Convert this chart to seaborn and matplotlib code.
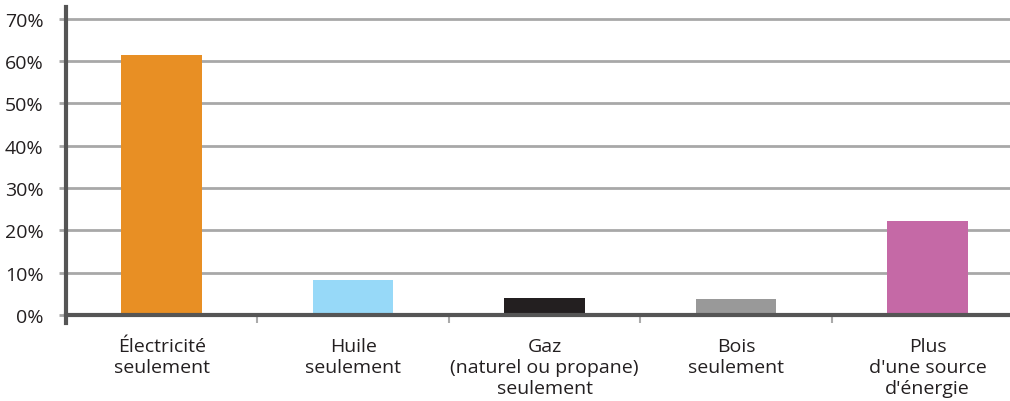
import matplotlib
matplotlib.use("Agg")
import matplotlib.pyplot as plt
import seaborn as sns
import pandas as pd
from matplotlib.ticker import FixedLocator

categories = ["Électricité\nseulement", "Huile\nseulement",
              "Gaz\n(naturel ou propane)\nseulement", "Bois\nseulement",
              "Plus\nd'une source\nd'énergie"]
values = [61.5, 8.3, 4.0, 3.8, 22.2]
colors = ["#E88F24", "#97D9F8", "#231F20", "#999999", "#C569A6"]
yticks = [0, 10, 20, 30, 40, 50, 60, 70]
ytick_labels = ["0%", "10%", "20%", "30%", "40%", "50%", "60%", "70%"]

sns.set_theme(style="white")
plt.rcParams['font.family'] = ['Open Sans', 'DejaVu Sans']

df = pd.DataFrame({"cat": categories, "val": values})

fig = plt.figure(figsize=(10.1, 4.02), dpi=100)
ax = fig.add_axes([0.0653, 0.193, 1 - 0.0653, 0.787])

for y in yticks[1:]:
    ax.axhline(y, color="#a8a8a8", lw=2, zorder=0)

sns.barplot(data=df, x="cat", y="val", hue="cat", palette=colors,
            width=0.42, legend=False, ax=ax, zorder=3, saturation=1,
            linewidth=0, edgecolor="none")

ax.set_ylim(-2, 72.8)
ax.set_xlim(-0.5, 4.43)
ax.set_xlabel("")
ax.set_ylabel("")
ax.set_yticks(yticks)
ax.set_yticklabels(ytick_labels)
ax.tick_params(axis="y", which="major", length=5, width=2, color="#a8a8a8",
               direction="out", pad=11, left=True, labelsize=14,
               labelcolor="#231F20")
ax.set_xticks(range(len(categories)))
ax.set_xticklabels(categories)
ax.tick_params(axis="x", which="major", length=0, pad=16, labelsize=14,
               labelcolor="#231F20")
for t in ax.get_xticklabels():
    t.set_linespacing(1.0)
ax.xaxis.set_minor_locator(FixedLocator([0.5, 1.5, 2.5, 3.5]))
ax.tick_params(axis="x", which="minor", length=6, width=1.5, color="#aaaaaa",
               direction="out", bottom=True)

for s in ["top", "right"]:
    ax.spines[s].set_visible(False)
ax.spines["left"].set_color("#555555")
ax.spines["left"].set_linewidth(3)
ax.spines["bottom"].set_color("#555555")
ax.spines["bottom"].set_linewidth(3)
ax.spines["bottom"].set_position(("data", 0))
ax.spines["bottom"].set_zorder(4)

fig.savefig("out.png", dpi=100)
